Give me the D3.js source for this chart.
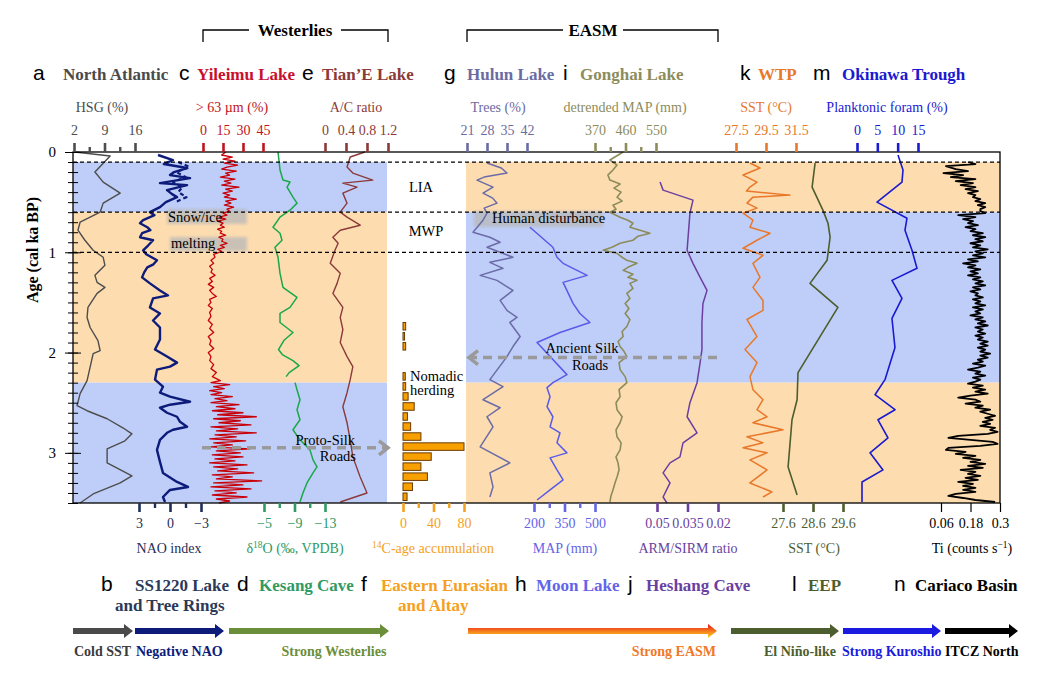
<!DOCTYPE html>
<html>
<head>
<meta charset="utf-8">
<script src="https://cdnjs.cloudflare.com/ajax/libs/d3/7.8.5/d3.min.js"></script>
<style>
  body { margin: 0; background: #fff; }
  svg text { font-family: "Liberation Serif", "Times New Roman", serif; }
  svg text.letter { font-family: "Liberation Sans", Arial, sans-serif; font-size: 21px; }
</style>
</head>
<body>
<div id="chart"></div>
<script>
// ---- data: [age (ka BP), value] ----
const hsgData = [[0,2.2],[0.04,10.3],[0.2,6.8],[0.3,8.7],[0.41,12.6],[0.51,8.7],[0.6,8.0],[0.7,3.4],[0.78,2.9],[0.88,4.5],[0.98,6.4],[1.05,8.7],[1.13,9.1],[1.23,6.8],[1.3,7.3],[1.35,9.1],[1.41,7.3],[1.55,5.2],[1.65,5.0],[1.75,5.7],[1.88,7.5],[1.98,8.0],[2.01,6.4],[2.28,5.0],[2.41,3.4],[2.53,2.7],[2.58,5.0],[2.66,9.6],[2.75,13.2],[2.81,15.3],[2.88,13.7],[2.96,9.6],[3.1,9.6],[3.23,15.3],[3.3,12.6],[3.41,6.4],[3.5,3.4]];

const naoData = [[0.03,1.16],[0.08,-0.29],[0.12,0.6],[0.16,-1.65],[0.2,-0.4],[0.23,0.0],[0.26,-1.94],[0.31,0.97],[0.33,-1.65],[0.38,0.29],[0.42,-0.2],[0.45,-0.68],[0.5,0.4],[0.55,0.97],[0.6,1.94],[0.63,1.5],[0.68,2.6],[0.71,2.9],[0.75,2.2],[0.78,1.9],[0.81,2.7],[0.85,2.9],[0.88,1.64],[0.93,2.1],[0.98,2.6],[1.02,2.3],[1.08,1.26],[1.12,1.6],[1.15,2.2],[1.2,2.5],[1.25,2.7],[1.31,1.94],[1.38,0.97],[1.43,0.19],[1.46,1.64],[1.55,1.94],[1.61,0.97],[1.68,1.64],[1.75,0.97],[1.87,0.97],[1.97,1.45],[2.04,0.29],[2.1,-0.68],[2.14,0.0],[2.17,1.26],[2.27,1.45],[2.34,0.68],[2.4,0.97],[2.44,0.0],[2.49,-1.94],[2.52,0.0],[2.55,0.97],[2.6,0.29],[2.64,-0.68],[2.69,-0.97],[2.74,-1.65],[2.77,-0.29],[2.8,0.29],[2.87,0.97],[2.97,1.26],[3.09,0.97],[3.2,0.68],[3.29,-0.68],[3.34,-1.74],[3.37,0.0],[3.44,0.68],[3.49,0.48]];
const naoTreeData = [[0.1,-0.8],[0.15,-1.9],[0.2,-0.6],[0.25,-1.5],[0.3,-0.3],[0.35,-1.2],[0.4,-0.8],[0.45,-1.6],[0.5,-0.5]];

const grainData = [[0,17],[0.03,14],[0.05,22],[0.07,15],[0.09,24],[0.11,16],[0.13,26],[0.15,18],[0.17,14],[0.19,25],[0.21,17],[0.23,20],[0.25,13],[0.27,24],[0.29,16],[0.31,21],[0.33,14],[0.35,27],[0.37,17],[0.39,22],[0.41,15],[0.43,20],[0.45,16],[0.47,25],[0.49,17],[0.51,21],[0.53,16],[0.55,23],[0.57,18],[0.59,20],[0.61,15],[0.63,18],[0.65,12],[0.67,17],[0.69,11],[0.71,15],[0.73,13],[0.75,16],[0.77,11],[0.79,14],[0.81,13],[0.83,17],[0.85,12],[0.87,15],[0.89,14],[0.91,18],[0.93,13],[0.95,16],[0.97,11],[0.99,14],[1.02,8],[1.05,9],[1.08,6],[1.11,8],[1.14,5],[1.17,7],[1.2,6],[1.23,9],[1.26,5],[1.29,7],[1.32,4],[1.35,8],[1.38,5],[1.41,7],[1.44,10],[1.47,5],[1.5,6],[1.53,4],[1.56,7],[1.6,5],[1.64,6],[1.68,4],[1.72,7],[1.76,5],[1.8,8],[1.84,4],[1.88,6],[1.92,5],[1.96,8],[2.0,4],[2.04,6],[2.08,5],[2.12,8],[2.16,6],[2.2,10],[2.24,7],[2.28,13],[2.3,6],[2.32,20],[2.34,8],[2.36,16],[2.38,5],[2.4,14],[2.42,6],[2.44,22],[2.46,9],[2.48,18],[2.5,6],[2.52,27],[2.54,10],[2.56,24],[2.58,7],[2.6,30],[2.62,11],[2.64,40],[2.66,8],[2.68,28],[2.7,12],[2.72,36],[2.74,6],[2.76,26],[2.78,10],[2.8,40],[2.82,9],[2.84,25],[2.86,5],[2.88,32],[2.9,8],[2.92,22],[2.94,6],[2.96,35],[2.98,10],[3.0,28],[3.02,7],[3.04,30],[3.06,9],[3.08,24],[3.1,5],[3.12,33],[3.14,8],[3.16,26],[3.18,11],[3.2,38],[3.22,7],[3.24,22],[3.26,10],[3.28,44],[3.3,8],[3.32,30],[3.34,6],[3.36,36],[3.38,9],[3.4,25],[3.42,7],[3.44,33],[3.46,10],[3.48,20],[3.5,12]];

const d18oData = [[0,-6.84],[0.18,-7.1],[0.28,-7.49],[0.3,-8.41],[0.35,-8.02],[0.45,-8.8],[0.51,-9.33],[0.58,-8.41],[0.65,-7.1],[0.75,-6.18],[0.81,-7.1],[0.88,-7.36],[0.95,-6.44],[1.05,-6.84],[1.21,-7.1],[1.35,-7.49],[1.45,-9.33],[1.55,-8.41],[1.61,-7.1],[1.7,-7.1],[1.8,-8.8],[1.88,-7.6],[1.97,-6.9],[2.02,-7.4],[2.08,-8.8],[2.13,-9.6],[2.2,-8.3],[2.24,-7.9],[2.27,null],[2.3,-9.07],[2.37,-9.33],[2.47,-9.72],[2.57,-9.33],[2.67,-9.72],[2.77,-8.8],[2.87,-9.72],[2.97,-11.03],[3.07,-11.43],[3.14,-11.95],[3.2,-11.43],[3.3,-10.64],[3.4,-10.11],[3.49,-9.72]];

const acData = [[0,0.76],[0.05,0.48],[0.15,0.42],[0.21,0.53],[0.28,0.91],[0.31,0.34],[0.35,0.61],[0.41,0.34],[0.51,0.42],[0.6,0.29],[0.65,0.42],[0.73,0.67],[0.78,0.29],[0.85,0.15],[0.91,0.25],[0.98,0.19],[1.11,0.1],[1.21,0.29],[1.31,0.23],[1.41,0.15],[1.55,0.34],[1.65,0.29],[1.77,0.34],[1.9,0.29],[2.04,0.42],[2.14,0.53],[2.27,0.48],[2.4,0.42],[2.54,0.34],[2.7,0.42],[2.87,0.48],[3.04,0.53],[3.24,0.67],[3.4,0.8],[3.49,0.29]];

const c14Age = [1.7,1.8,1.9,2.2,2.3,2.4,2.5,2.6,2.7,2.8,2.9,3.0,3.1,3.2,3.3,3.4];
const c14Count = [3.5,2,3.5,3,3.5,6.7,14.7,5.8,10,23.5,80,37,23.5,32,12.4,5.3];

const treesData = [[0.11,28],[0.16,33],[0.21,35],[0.25,27],[0.28,24.5],[0.35,30.1],[0.41,26.6],[0.46,30],[0.51,31.5],[0.56,27],[0.61,28],[0.68,26.6],[0.8,23.1],[0.85,29],[0.9,32.6],[0.95,28],[1.05,37.1],[1.1,29],[1.16,33.6],[1.23,25.6],[1.28,31.5],[1.38,37.1],[1.48,32.6],[1.58,35],[1.65,38.5],[1.7,36],[1.84,39.6],[1.94,37.1],[2.04,35],[2.27,29],[2.34,33.6],[2.47,26.6],[2.55,32.6],[2.64,28],[2.74,30.1],[2.94,25.6],[3.1,36],[3.2,29],[3.34,30.1],[3.44,29]];

const moonMapData = [[0.75,180],[0.95,293],[1.05,313],[1.11,343],[1.23,461],[1.3,343],[1.51,392],[1.61,426],[1.7,475],[1.8,328],[1.9,215],[2.22,362],[2.3,293],[2.35,264],[2.44,279],[2.54,264],[2.64,293],[2.74,279],[2.8,328],[2.9,313],[3.0,362],[3.05,279],[3.17,313],[3.27,343],[3.37,279],[3.47,215]];

const gonghaiData = [[0,453],[0.08,414],[0.13,435],[0.18,423],[0.23,408],[0.28,414],[0.32,444],[0.36,426],[0.4,447],[0.45,435],[0.49,450],[0.53,423],[0.57,432],[0.6,414],[0.65,444],[0.68,467],[0.71,482],[0.75,473],[0.78,503],[0.81,532],[0.84,497],[0.88,482],[0.91,444],[0.95,420],[0.98,394],[1.01,435],[1.05,450],[1.08,464],[1.11,494],[1.15,467],[1.18,453],[1.22,482],[1.25,467],[1.28,494],[1.31,473],[1.36,482],[1.41,464],[1.46,473],[1.51,459],[1.56,470],[1.61,459],[1.67,473],[1.74,464],[1.79,450],[1.84,453],[1.89,438],[1.94,444],[1.99,456],[2.04,464],[2.1,441],[2.17,444],[2.24,459],[2.3,464],[2.37,441],[2.44,444],[2.5,432],[2.57,435],[2.64,450],[2.7,444],[2.77,432],[2.84,435],[2.9,447],[2.97,444],[3.04,432],[3.1,438],[3.17,441],[3.24,435],[3.3,429],[3.37,423],[3.43,417],[3.49,414]];

const armData = [[0.3,0.0485],[0.38,0.047],[0.48,0.0323],[0.61,0.0338],[0.98,0.0352],[1.11,0.0323],[1.25,0.0288],[1.38,0.0254],[1.51,0.0274],[1.7,0.0279],[1.97,0.0279],[2.1,0.0288],[2.3,0.0303],[2.5,0.0338],[2.64,0.0352],[2.8,0.0303],[2.9,0.0372],[3.04,0.0387],[3.1,0.0436],[3.2,0.047],[3.3,0.0436],[3.44,0.047],[3.5,0.0451]];

const wtpData = [[0.11,28.43],[0.16,29.1],[0.23,27.97],[0.3,28.9],[0.35,28.43],[0.39,28.2],[0.43,31.1],[0.45,28.63],[0.51,28.23],[0.56,28.9],[0.61,27.97],[0.68,28.63],[0.75,28.43],[0.81,29.77],[0.88,28.9],[0.96,27.97],[1.03,29.3],[1.11,28.63],[1.25,29.1],[1.35,28.63],[1.48,29.3],[1.58,29.3],[1.67,28.23],[1.84,28.9],[1.97,28.1],[2.1,28.9],[2.24,28.43],[2.37,28.63],[2.47,29.3],[2.57,28.9],[2.64,29.57],[2.7,28.63],[2.77,30.63],[2.84,28.23],[2.9,29.3],[2.95,27.97],[3.0,29.57],[3.07,28.43],[3.17,29.57],[3.3,28.43],[3.39,29.9],[3.44,29.3]];

const eepData = [[0.11,28.67],[0.35,28.57],[0.58,28.93],[0.71,29.1],[0.85,29.17],[1.08,29.07],[1.31,28.5],[1.55,29.43],[2.2,28.1],[2.47,28.07],[2.67,27.9],[3.14,27.77],[3.42,28.07]];

const foramData = [[0.03,10.08],[0.18,11.31],[0.3,11.06],[0.5,4.92],[0.66,12.29],[0.78,11.8],[0.98,13.52],[1.16,14.75],[1.28,8.6],[1.46,11.06],[1.66,8.6],[1.95,9.34],[2.27,6.88],[2.42,4.43],[2.57,9.34],[2.67,5.16],[2.85,7.62],[3.0,3.2],[3.17,6.39],[3.29,1.23],[3.49,1.23]];

const tiData = [[0.1,0.17],[0.12,0.2],[0.14,0.08],[0.17,0.12],[0.19,0.17],[0.21,0.07],[0.23,0.15],[0.25,0.1],[0.27,0.2],[0.29,0.12],[0.31,0.19],[0.33,0.14],[0.35,0.2],[0.37,0.16],[0.39,0.21],[0.41,0.17],[0.43,0.2],[0.45,0.19],[0.47,0.22],[0.49,0.2],[0.51,0.24],[0.53,0.21],[0.55,0.24],[0.57,0.22],[0.59,0.22],[0.61,0.24],[0.63,0.13],[0.65,0.2],[0.67,0.15],[0.69,0.19],[0.71,0.17],[0.73,0.21],[0.75,0.16],[0.77,0.2],[0.79,0.18],[0.81,0.23],[0.83,0.19],[0.85,0.24],[0.87,0.2],[0.89,0.23],[0.91,0.18],[0.93,0.22],[0.95,0.19],[0.97,0.25],[0.99,0.2],[1.01,0.23],[1.03,0.19],[1.05,0.24],[1.07,0.17],[1.09,0.21],[1.11,0.15],[1.13,0.2],[1.15,0.17],[1.17,0.22],[1.19,0.18],[1.21,0.21],[1.23,0.17],[1.25,0.22],[1.27,0.19],[1.29,0.23],[1.31,0.2],[1.33,0.24],[1.35,0.19],[1.37,0.22],[1.39,0.18],[1.41,0.21],[1.43,0.2],[1.45,0.23],[1.47,0.19],[1.49,0.22],[1.51,0.2],[1.53,0.24],[1.55,0.19],[1.57,0.23],[1.59,0.2],[1.61,0.22],[1.63,0.18],[1.65,0.23],[1.67,0.2],[1.69,0.24],[1.71,0.21],[1.73,0.25],[1.75,0.2],[1.77,0.23],[1.79,0.21],[1.81,0.24],[1.83,0.2],[1.85,0.23],[1.87,0.21],[1.89,0.25],[1.91,0.22],[1.93,0.25],[1.95,0.21],[1.97,0.24],[1.99,0.22],[2.01,0.26],[2.03,0.22],[2.05,0.25],[2.07,0.21],[2.09,0.23],[2.11,0.19],[2.13,0.24],[2.15,0.21],[2.17,0.17],[2.19,0.22],[2.21,0.2],[2.23,0.24],[2.25,0.19],[2.27,0.22],[2.29,0.2],[2.31,0.17],[2.33,0.23],[2.35,0.19],[2.37,0.24],[2.39,0.2],[2.41,0.25],[2.43,0.18],[2.45,0.13],[2.47,0.2],[2.49,0.22],[2.51,0.16],[2.53,0.23],[2.55,0.2],[2.57,0.26],[2.59,0.22],[2.61,0.25],[2.63,0.28],[2.65,0.24],[2.67,0.27],[2.69,0.23],[2.71,0.26],[2.73,0.22],[2.75,0.28],[2.77,0.26],[2.79,0.29],[2.81,0.25],[2.83,0.13],[2.85,0.09],[2.87,0.18],[2.89,0.27],[2.91,0.29],[2.93,0.22],[2.95,0.09],[2.97,0.08],[2.99,0.16],[3.01,0.12],[3.03,0.2],[3.05,0.15],[3.07,0.22],[3.09,0.18],[3.11,0.24],[3.13,0.17],[3.15,0.23],[3.17,0.14],[3.19,0.2],[3.21,0.17],[3.23,0.22],[3.25,0.16],[3.27,0.21],[3.29,0.13],[3.31,0.19],[3.33,0.15],[3.35,0.2],[3.37,0.15],[3.39,0.2],[3.41,0.12],[3.43,0.09],[3.45,0.15],[3.47,0.2],[3.49,0.28]];

// ---- tick labels ----
const ageTicks = [0, 1, 2, 3];
const hsgTicks = [2, 9, 16], hsgMinor = [5.5, 12.5];
const grainTicks = [0, 15, 30, 45];
const acTicks = [0, 0.4, 0.8, 1.2];
const treesTicks = [21, 28, 35, 42];
const gonghaiTicks = [370, 460, 550], gonghaiMinor = [415, 505];
const wtpTicks = [27.5, 29.5, 31.5];
const foramTicks = [0, 5, 10, 15];
const naoTicks = [3, 0, -3], naoMinor = [1.5, -1.5];
const d18oTicks = [-5, -9, -13], d18oMinor = [-7, -11];
const c14Ticks = [0, 40, 80], c14Minor = [20, 60];
const moonTicks = [200, 350, 500], moonMinor = [275, 425];
const armTicks = [0.05, 0.035, 0.02];
const eepTicks = [27.6, 28.6, 29.6];
const tiTicks = [0.06, 0.18, 0.3];

// warm/cold phase boundaries and dashed event lines (ka BP)
const phaseBounds = [0.1, 0.6, 2.3, 3.5];
const eventLines = [0.1, 0.6, 1.0];

function draw() {
    const width = 1056, height = 675;
    const blue = "#bfcef8", orange = "#fddcb0";
    const fmt = d => d < 0 ? "\u2212" + Math.abs(d) : String(d);

    const svg = d3.select("#chart").append("svg")
        .attr("width", width)
        .attr("height", height);

    const defs = svg.append("defs");
    defs.append("filter").attr("id", "soft")
        .append("feGaussianBlur").attr("stdDeviation", 1.6);
    const grad = defs.append("linearGradient").attr("id", "easm")
        .attr("x1", 0).attr("y1", 0).attr("x2", 0).attr("y2", 1);
    grad.append("stop").attr("offset", "0%").attr("stop-color", "#e8101a");
    grad.append("stop").attr("offset", "50%").attr("stop-color", "#f47a1c");
    grad.append("stop").attr("offset", "100%").attr("stop-color", "#ffd61e");

    const y = d3.scaleLinear().domain([0, 3.5]).range([152, 503]);
    const left = 73, right = 1000;

    // ---- shading ----
    const shade = (x0, x1, colors) => {
        for (let i = 0; i < 3; i++) {
            svg.append("rect")
                .attr("x", x0).attr("width", x1 - x0)
                .attr("y", y(phaseBounds[i]))
                .attr("height", y(phaseBounds[i + 1]) - y(phaseBounds[i]))
                .attr("fill", colors[i]);
        }
    };
    shade(left, 387, [blue, orange, blue]);
    shade(466, right, [orange, blue, orange]);

    // ---- scales (tick values -> pixel positions) ----
    const sc = (domain, range) => d3.scaleLinear().domain(domain).range(range);
    const xHsg = sc([2, 16], [74, 135]);
    const xGrain = sc([0, 45], [203, 263]);
    const xAc = sc([0, 1.2], [325, 388]);
    const xTrees = sc([21, 42], [467, 527]);
    const xGong = sc([370, 550], [595, 656]);
    const xWtp = sc([27.5, 31.5], [736, 796]);
    const xForam = sc([0, 15], [857, 918]);
    const xNao = sc([3, -3], [139, 201]);
    const xD18o = sc([-5, -13], [264, 325]);
    const xC14 = sc([0, 80], [403, 464]);
    const xMoon = sc([200, 500], [534, 595]);
    const xArm = sc([0.05, 0.02], [657, 718]);
    const xEep = sc([27.6, 29.6], [783, 843]);
    const xTi = sc([0.06, 0.3], [941, 1000]);

    // ---- annotation boxes (behind curves) ----
    const softBox = (x, yy, w, h) => svg.append("rect")
        .attr("x", x).attr("y", yy).attr("width", w).attr("height", h)
        .attr("fill", "#b9b9b9").attr("opacity", 0.75).attr("filter", "url(#soft)");
    softBox(167, 209, 80, 15);
    softBox(170, 237, 77, 14);
    softBox(474, 211, 129, 16);

    // ---- curves ----
    const curve = (data, xs, color, w, dash) => {
        const line = d3.line()
            .defined(d => d[1] !== null)
            .x(d => xs(d[1]))
            .y(d => y(d[0]));
        svg.append("path").datum(data)
            .attr("d", line)
            .attr("fill", "none")
            .attr("stroke", color)
            .attr("stroke-width", w)
            .attr("stroke-linejoin", "round")
            .attr("stroke-dasharray", dash || null);
    };
    curve(hsgData, xHsg, "#4d4d4d", 1.4);
    curve(naoData, xNao, "#0d1b7a", 2.4);
    curve(naoTreeData, xNao, "#0d1b7a", 2.2, "4,3");
    curve(grainData, xGrain, "#c8000a", 1.3);
    curve(d18oData, xD18o, "#19a84a", 1.5);
    curve(acData, xAc, "#8b3a3a", 1.4);
    curve(treesData, xTrees, "#6b6ba8", 1.5);
    curve(moonMapData, xMoon, "#5a5ae8", 1.5);
    curve(gonghaiData, xGong, "#8c8c5a", 1.6);
    curve(armData, xArm, "#6b3fa0", 1.5);
    curve(wtpData, xWtp, "#e8782a", 1.5);
    curve(eepData, xEep, "#4d5e2e", 1.6);
    curve(foramData, xForam, "#1a1ad0", 1.6);
    curve(tiData, xTi, "#000", 1.8);

    // ---- 14C histogram ----
    svg.append("g").selectAll("rect")
        .data(c14Age.map((a, i) => [a, c14Count[i]]))
        .enter().append("rect")
        .attr("x", xC14(0))
        .attr("y", d => y(d[0]))
        .attr("width", d => xC14(d[1]) - xC14(0))
        .attr("height", y(0.075) - y(0))
        .attr("fill", "#f7a000")
        .attr("stroke", "#6b3a00")
        .attr("stroke-width", 1);

    // ---- dashed event lines ----
    svg.append("g").selectAll("line")
        .data(eventLines)
        .enter().append("line")
        .attr("x1", left).attr("x2", right)
        .attr("y1", d => y(d)).attr("y2", d => y(d))
        .attr("stroke", "#000").attr("stroke-width", 1.2)
        .attr("stroke-dasharray", "4,3");

    // ---- frame ----
    svg.append("rect")
        .attr("x", left).attr("y", y(0))
        .attr("width", right - left).attr("height", y(3.5) - y(0))
        .attr("fill", "none").attr("stroke", "#000").attr("stroke-width", 1.3);

    // ---- age axis ----
    const ya = svg.append("g").attr("transform", `translate(${left},0)`);
    ya.call(d3.axisLeft(y).tickValues(d3.range(0, 3.51, 0.1)).tickSize(5).tickFormat(""))
        .call(g => g.select(".domain").remove());
    ya.selectAll(".tick line").attr("x2", 5).attr("x1", -5).attr("stroke", "#000");
    const ym = svg.append("g").attr("transform", `translate(${left},0)`);
    ym.call(d3.axisLeft(y).tickValues(ageTicks).tickSize(8).tickPadding(9).tickFormat(fmt))
        .call(g => g.select(".domain").remove());
    ym.selectAll(".tick line").attr("x2", 8).attr("x1", -8).attr("stroke", "#000");
    ym.selectAll("text").attr("font-size", 15).attr("fill", "#000")
        .attr("font-family", "Liberation Serif");
    svg.append("text")
        .attr("transform", "translate(38,250) rotate(-90)")
        .attr("text-anchor", "middle")
        .attr("font-size", 16).attr("font-weight", "bold")
        .text("Age (cal ka BP)");

    // ---- proxy axes ----
    const proxyAxis = (xs, ticks, minor, color, top, label, labelX, tickW) => {
        const g = svg.append("g").attr("transform", `translate(0,${top ? y(0) : y(3.5)})`);
        const ax = top ? d3.axisTop(xs) : d3.axisBottom(xs);
        g.call(ax.tickValues(ticks).tickSize(9).tickPadding(top ? 8 : 6).tickFormat(fmt))
            .call(gg => gg.select(".domain").remove());
        g.selectAll(".tick line").attr("stroke", color).attr("stroke-width", tickW || 2.6);
        g.selectAll(".tick text").attr("fill", color).attr("font-size", 14)
            .attr("font-family", "Liberation Serif");
        if (minor) {
            const m = svg.append("g").attr("transform", `translate(0,${top ? y(0) : y(3.5)})`);
            m.call((top ? d3.axisTop(xs) : d3.axisBottom(xs)).tickValues(minor).tickSize(5).tickFormat(""))
                .call(gg => gg.select(".domain").remove());
            m.selectAll(".tick line").attr("stroke", color).attr("stroke-width", 2.4);
        }
        if (label) {
            const t = svg.append("text")
                .attr("x", labelX).attr("y", top ? 112 : 553)
                .attr("text-anchor", "middle")
                .attr("font-size", 14).attr("fill", color);
            label.forEach(p => {
                t.append("tspan").text(p[0])
                    .attr("font-size", p[1] ? 9.5 : null)
                    .attr("dy", p[1] ? -5 : (p[2] ? 5 : null));
            });
        }
    };
    proxyAxis(xHsg, hsgTicks, hsgMinor, "#4d4d4d", true, [["HSG (%)"]], 102);
    proxyAxis(xGrain, grainTicks, null, "#c0141e", true, [["> 63 \u00b5m (%)"]], 232);
    proxyAxis(xAc, acTicks, null, "#8b3a3a", true, [["A/C ratio"]], 356);
    proxyAxis(xTrees, treesTicks, null, "#6b6ba3", true, [["Trees (%)"]], 498);
    proxyAxis(xGong, gonghaiTicks, gonghaiMinor, "#8c8c5c", true, [["detrended MAP (mm)"]], 625);
    proxyAxis(xWtp, wtpTicks, null, "#e8782a", true, [["SST (\u00b0C)"]], 766);
    proxyAxis(xForam, foramTicks, null, "#1a1ad0", true, [["Planktonic foram (%)"]], 887);
    proxyAxis(xNao, naoTicks, naoMinor, "#1f2f58", false, [["NAO index"]], 169);
    proxyAxis(xD18o, d18oTicks, d18oMinor, "#2f9a62", false, [["\u03b4"], ["18", true], ["O (\u2030, VPDB)", false, true]], 295);
    proxyAxis(xC14, c14Ticks, c14Minor, "#f5a020", false, [["14", true], ["C-age accumulation", false, true]], 433);
    proxyAxis(xMoon, moonTicks, moonMinor, "#6464e8", false, [["MAP (mm)"]], 565);
    proxyAxis(xArm, armTicks, null, "#6b3fa0", false, [["ARM/SIRM ratio"]], 688);
    proxyAxis(xEep, eepTicks, null, "#4d5e2e", false, [["SST (\u00b0C)"]], 814);
    proxyAxis(xTi, tiTicks, null, "#000", false, [["Ti (counts s"], ["\u22121", true], [")", false, true]], 972, 1.2);

    // ---- headers ----
    const bracket = (x0, x1, label, cx, gap) => {
        svg.append("path")
            .attr("d", `M${x0},42V30H${cx - gap}M${cx + gap},30H${x1}V42`)
            .attr("fill", "none").attr("stroke", "#000").attr("stroke-width", 1.3);
        svg.append("text").attr("x", cx).attr("y", 36)
            .attr("text-anchor", "middle").attr("font-size", 17).attr("font-weight", "bold")
            .text(label);
    };
    bracket(203, 388, "Westerlies", 295, 46);
    bracket(467, 718, "EASM", 593, 30);

    const site = (letterX, letter, x, yy, name, color) => {
        svg.append("text").attr("class", "letter").attr("x", letterX).attr("y", yy).text(letter);
        svg.append("text").attr("x", x).attr("y", yy)
            .attr("font-size", 17).attr("font-weight", "bold").attr("fill", color)
            .text(name);
    };
    site(33, "a", 63, 80, "North Atlantic", "#4a4a4a");
    site(179, "c", 197, 80, "Yileimu Lake", "#c8102e");
    site(302, "e", 322, 80, "Tian\u2019E Lake", "#8b3a3a");
    site(444, "g", 467, 80, "Hulun Lake", "#6b6ba3");
    site(563, "i", 580, 80, "Gonghai Lake", "#8c8c5c");
    site(740, "k", 758, 80, "WTP", "#e8782a");
    site(813, "m", 842, 80, "Okinawa Trough", "#1a1ad0");

    site(101, "b", 135, 591, "SS1220 Lake", "#2a3a58");
    site(237, "d", 259, 591, "Kesang Cave", "#2f9a62");
    site(361, "f", 381, 591, "Eastern Eurasian", "#f5a020");
    site(515, "h", 536, 591, "Moon Lake", "#6464e8");
    site(628, "j", 646, 591, "Heshang Cave", "#6b3fa0");
    site(792, "l", 808, 591, "EEP", "#4d5e2e");
    site(894, "n", 915, 591, "Cariaco Basin", "#000");
    site(-50, "", 115, 611, "and Tree Rings", "#2a3a58");
    site(-50, "", 398, 611, "and Altay", "#f5a020");

    // ---- in-plot annotations ----
    const note = (x, yy, str, anchor) => svg.append("text")
        .attr("x", x).attr("y", yy).attr("font-size", 14.5)
        .attr("text-anchor", anchor || "start").text(str);
    note(421, 192, "LIA", "middle");
    note(426, 236, "MWP", "middle");
    note(168, 222, "Snow/ice");
    note(171, 248, "melting");
    note(492, 223, "Human disturbance");
    note(410, 381, "Nomadic");
    note(410, 395, "herding");
    note(355, 445, "Proto-Silk", "end");
    note(356, 461, "Roads", "end");
    note(582, 353, "Ancient Silk", "middle");
    note(590, 370, "Roads", "middle");

    const silkArrow = (x0, x1, age) => {
        const yy = y(age), dir = x1 > x0 ? 1 : -1;
        svg.append("line")
            .attr("x1", x0).attr("x2", x1 - dir * 3).attr("y1", yy).attr("y2", yy)
            .attr("stroke", "#9a9a9a").attr("stroke-width", 3.5).attr("stroke-dasharray", "9,6");
        svg.append("path")
            .attr("d", `M${x1 - dir * 9},${yy - 7}L${x1},${yy}L${x1 - dir * 9},${yy + 7}`)
            .attr("fill", "none").attr("stroke", "#9a9a9a").attr("stroke-width", 3.5);
    };
    silkArrow(202, 388, 2.95);
    silkArrow(717, 469, 2.05);

    // ---- bottom arrows ----
    const arrow = (x0, x1, fill, label, lx, anchor, lcolor) => {
        const yc = 631;
        svg.append("path")
            .attr("d", `M${x0},${yc - 3}H${x1 - 9}V${yc - 7}L${x1},${yc}L${x1 - 9},${yc + 7}V${yc + 3}H${x0}Z`)
            .attr("fill", fill);
        svg.append("text").attr("x", lx).attr("y", 656)
            .attr("text-anchor", anchor).attr("font-size", 14).attr("font-weight", "bold")
            .attr("fill", lcolor).text(label);
    };
    arrow(73, 133, "#4a4a4a", "Cold SST", 74, "start", "#3a3a3a");
    arrow(135, 224, "#0d1b7a", "Negative NAO", 136, "start", "#0d1b7a");
    arrow(229, 389, "#6b8e3a", "Strong Westerlies", 334, "middle", "#6b8e3a");
    arrow(468, 717, "url(#easm)", "Strong EASM", 716, "end", "#f07828");
    arrow(731, 839, "#4d5e2e", "El Ni\u00f1o-like", 764, "start", "#4d5e2e");
    arrow(843, 941, "#1a1ae0", "Strong Kuroshio", 842, "start", "#1a1ae0");
    arrow(945, 1018, "#000", "ITCZ North", 945, "start", "#000");
}

document.addEventListener('DOMContentLoaded', draw);
</script>
</body>
</html>
